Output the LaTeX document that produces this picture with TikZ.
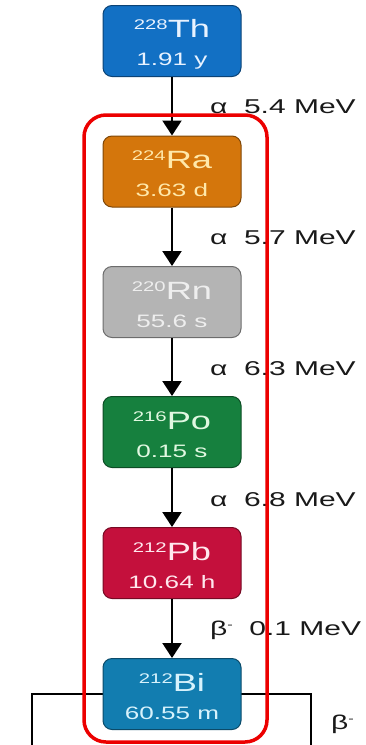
\documentclass[tikz,border=0pt]{standalone}
\usepackage{fontspec}
\setmainfont{Liberation Sans}
\usepackage{graphicx}
\usetikzlibrary{arrows.meta}
\definecolor{thfill}{RGB}{18,112,196}
\definecolor{rafill}{RGB}{212,118,12}
\definecolor{rnfill}{RGB}{180,180,180}
\definecolor{pofill}{RGB}{22,128,62}
\definecolor{pbfill}{RGB}{196,16,60}
\definecolor{bifill}{RGB}{18,125,176}
\definecolor{thtext}{RGB}{232,242,255}
\definecolor{ratext}{RGB}{255,232,170}
\definecolor{rntext}{RGB}{238,238,238}
\definecolor{potext}{RGB}{225,248,225}
\definecolor{pbtext}{RGB}{255,232,238}
\definecolor{bitext}{RGB}{215,242,252}
\definecolor{chainred}{RGB}{236,0,0}
\newcommand{\hs}[1]{\scalebox{1.45}[1]{#1}}
\newcommand{\hl}[1]{\scalebox{1.5}[1]{#1}}
\newcommand{\nuc}[3]{\rule{0pt}{24pt}\hs{\fontsize{14}{14}\selectfont\raisebox{8pt}{#1}}\hs{\fontsize{25}{25}\selectfont #2}\\\hs{\fontsize{18}{18}\selectfont #3}\rule[-2pt]{0pt}{2pt}}
\newcommand{\bminus}{\raisebox{7pt}{\fontsize{11}{11}\selectfont -}}
\begin{document}
\begin{tikzpicture}[x=1pt,y=1pt,
  nbox/.style={rounded corners=9pt, minimum width=138pt, minimum height=71pt, inner sep=0pt, align=center, line width=1pt, font=\fontsize{18}{28}\selectfont},
  decay/.style={line width=2.3pt, -{Triangle[width=19pt,length=15pt]}},
  lab/.style={anchor=base west, inner sep=0pt, font=\fontsize{20}{20}\selectfont, text=black!90},
  brk/.style={line width=2pt},
  chainbox/.style={draw=chainred, line width=3.5pt, rounded corners=22pt, minimum width=183pt, minimum height=627pt, inner sep=0pt}]
\useasboundingbox (0,0) rectangle (365,-745);
% bracket behind Bi
\coordinate (bl) at (32,-745);
\coordinate (tl) at (32,-694);
\coordinate (tr) at (311,-694);
\coordinate (br) at (311,-745);
\draw[brk] (bl) -- (tl) -- (tr) -- (br);
% nuclide boxes
\node[nbox, fill=thfill, draw=thfill!60!black, text=thtext] (th) at (172,-41) {\nuc{228}{Th}{1.91 y}};
\node[nbox, fill=rafill, draw=rafill!60!black, text=ratext] (ra) at (172,-171.5) {\nuc{224}{Ra}{3.63 d}};
\node[nbox, fill=rnfill, draw=rnfill!60!black, text=rntext] (rn) at (172,-302) {\nuc{220}{Rn}{55.6 s}};
\node[nbox, fill=pofill, draw=pofill!60!black, text=potext] (po) at (172,-432) {\nuc{216}{Po}{0.15 s}};
\node[nbox, fill=pbfill, draw=pbfill!60!black, text=pbtext] (pb) at (172,-563) {\nuc{212}{Pb}{10.64 h}};
\node[nbox, fill=bifill, draw=bifill!60!black, text=bitext] (bi) at (172,-694) {\nuc{212}{Bi}{60.55 m}};
% decays
\draw[decay] (th) -- (ra);
\draw[decay] (ra) -- (rn);
\draw[decay] (rn) -- (po);
\draw[decay] (po) -- (pb);
\draw[decay] (pb) -- (bi);
% labels
\node[lab] (l1) at (210,-113) {\hl{α\hspace{11pt}5.4 MeV}};
\node[lab] (l2) at (210,-244) {\hl{α\hspace{11pt}5.7 MeV}};
\node[lab] (l3) at (210,-375) {\hl{α\hspace{11pt}6.3 MeV}};
\node[lab] (l4) at (210,-506) {\hl{α\hspace{11pt}6.8 MeV}};
\node[lab] (l5) at (210,-635) {\hl{β\bminus\hspace{11pt}0.1 MeV}};
\node[lab] (l6) at (331,-729) {\hl{β\bminus}};
% red group
\node[chainbox] (grp) at (175.5,-428.5) {};
\end{tikzpicture}
\end{document}
